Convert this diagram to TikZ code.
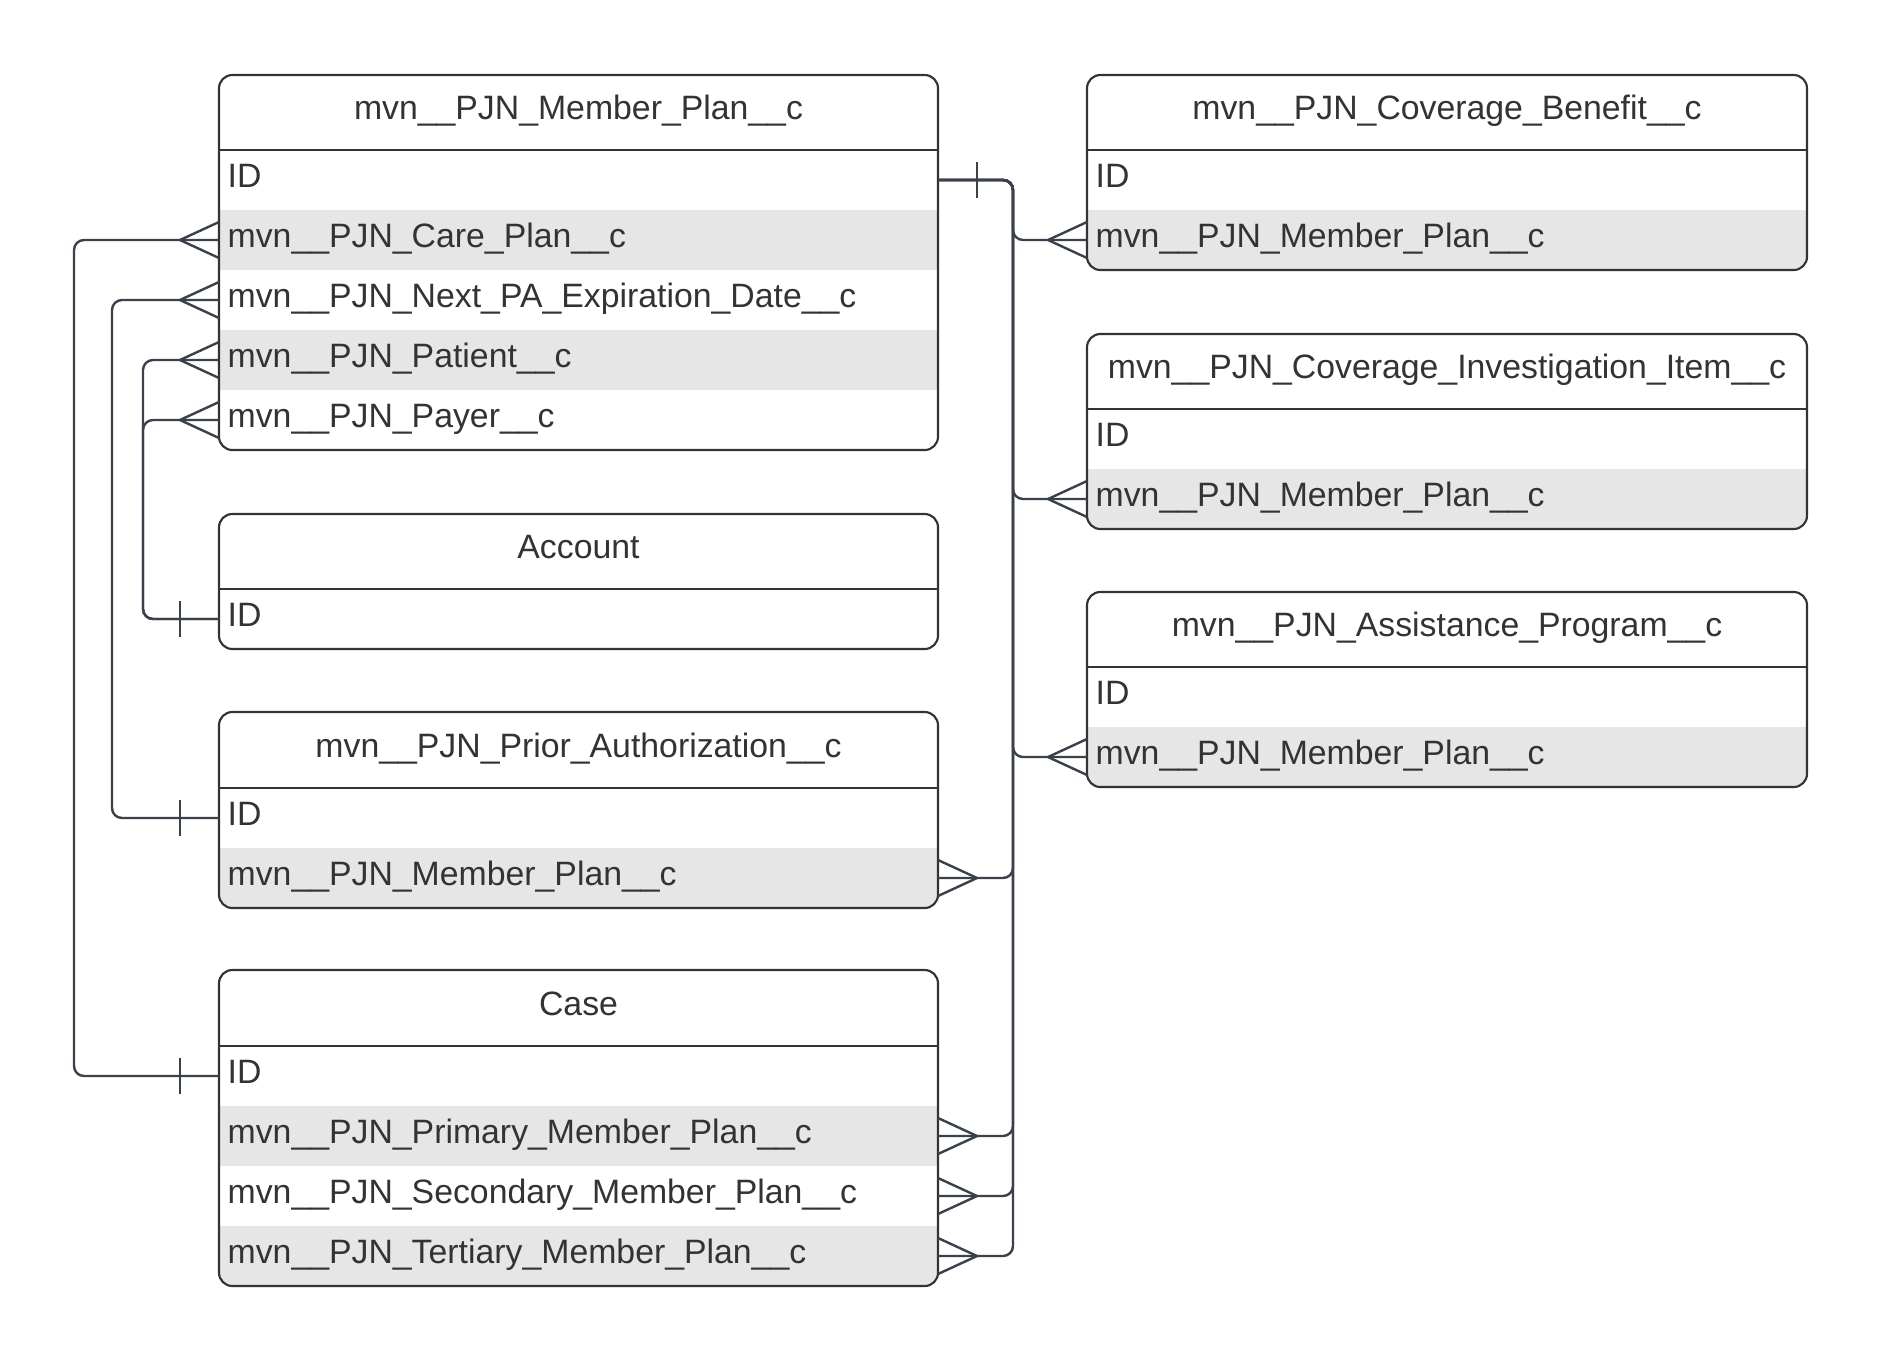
\documentclass[tikz,border=0pt]{standalone}
\usepackage{fontspec}
\setmainfont{Liberation Sans}
\usetikzlibrary{calc}
\definecolor{linec}{HTML}{3A414A}
\definecolor{boxc}{HTML}{333333}
\definecolor{rowg}{HTML}{E6E6E6}
\definecolor{txt}{HTML}{333333}
\tikzset{
  every node/.style={font=\fontsize{25.35}{30}\selectfont, text=txt},
  rowL/.style={anchor=north west, outer sep=0pt, inner ysep=0pt, inner xsep=6.5pt,
    minimum height=45pt, text width=526.25pt, align=left, text height=18pt, text depth=7.5pt},
  rowR/.style={rowL, text width=527pt},
  grayrow/.style={fill=rowg},
  hdr/.style={anchor=center, text height=18pt, text depth=7.5pt, inner sep=0pt},
  entbox/.style={draw=boxc, line width=1.6pt, rounded corners=10pt},
  sepline/.style={draw=boxc, line width=1.6pt},
  conn/.style={draw=linec, line width=1.8pt, rounded corners=7.5pt},
  tipline/.style={draw=linec, line width=1.8pt},
}
\newcommand\crowW[1]{\draw[tipline] ($(#1.west)+(0,-18)$) -- ($(#1.west)+(-39,0)$) -- ($(#1.west)+(0,18)$);}
\newcommand\crowE[1]{\draw[tipline] ($(#1.east)+(0,-18)$) -- ($(#1.east)+(39,0)$) -- ($(#1.east)+(0,18)$);}
\newcommand\barW[1]{\draw[tipline] ($(#1.west)+(-39,-18)$) -- ($(#1.west)+(-39,18)$);}
\newcommand\barE[1]{\draw[tipline] ($(#1.east)+(39,-18)$) -- ($(#1.east)+(39,18)$);}
\begin{document}
\begin{tikzpicture}[x=0.75pt, y=-0.75pt]
\useasboundingbox (0,0) rectangle (1883,1361);
\fill[white] (0,0) rectangle (1883,1361);

% ---------- Member Plan ----------
\begin{scope}
  \clip[rounded corners=10pt] (219,75) rectangle (938,450);
  \node[rowL] (mp-id) at (219,150) {ID};
  \node[rowL, grayrow] (mp-care) at (219,210) {mvn\_\_PJN\_Care\_Plan\_\_c};
  \node[rowL] (mp-next) at (219,270) {mvn\_\_PJN\_Next\_PA\_Expiration\_Date\_\_c};
  \node[rowL, grayrow] (mp-patient) at (219,330) {mvn\_\_PJN\_Patient\_\_c};
  \node[rowL] (mp-payer) at (219,390) {mvn\_\_PJN\_Payer\_\_c};
\end{scope}
\draw[entbox] (219,75) rectangle (938,450);
\draw[sepline] (219,150) -- (938,150);
\node[hdr] (mp) at (578.5,112.5) {mvn\_\_PJN\_Member\_Plan\_\_c};

% ---------- Account ----------
\begin{scope}
  \clip[rounded corners=10pt] (219,514) rectangle (938,649);
  \node[rowL] (acc-id) at (219,589) {ID};
\end{scope}
\draw[entbox] (219,514) rectangle (938,649);
\draw[sepline] (219,589) -- (938,589);
\node[hdr] (acc) at (578.5,551.5) {Account};

% ---------- Prior Authorization ----------
\begin{scope}
  \clip[rounded corners=10pt] (219,712) rectangle (938,908);
  \node[rowL] (pa-id) at (219,788) {ID};
  \node[rowL, grayrow] (pa-mp) at (219,848) {mvn\_\_PJN\_Member\_Plan\_\_c};
\end{scope}
\draw[entbox] (219,712) rectangle (938,908);
\draw[sepline] (219,788) -- (938,788);
\node[hdr] (pa) at (578.5,750) {mvn\_\_PJN\_Prior\_Authorization\_\_c};

% ---------- Case ----------
\begin{scope}
  \clip[rounded corners=10pt] (219,970) rectangle (938,1286);
  \node[rowL] (case-id) at (219,1046) {ID};
  \node[rowL, grayrow] (case-pri) at (219,1106) {mvn\_\_PJN\_Primary\_Member\_Plan\_\_c};
  \node[rowL] (case-sec) at (219,1166) {mvn\_\_PJN\_Secondary\_Member\_Plan\_\_c};
  \node[rowL, grayrow] (case-ter) at (219,1226) {mvn\_\_PJN\_Tertiary\_Member\_Plan\_\_c};
\end{scope}
\draw[entbox] (219,970) rectangle (938,1286);
\draw[sepline] (219,1046) -- (938,1046);
\node[hdr] (case) at (578.5,1008) {Case};

% ---------- Coverage Benefit ----------
\begin{scope}
  \clip[rounded corners=10pt] (1087,75) rectangle (1807,270);
  \node[rowR] (cb-id) at (1087,150) {ID};
  \node[rowR, grayrow] (cb-mp) at (1087,210) {mvn\_\_PJN\_Member\_Plan\_\_c};
\end{scope}
\draw[entbox] (1087,75) rectangle (1807,270);
\draw[sepline] (1087,150) -- (1807,150);
\node[hdr] (cb) at (1447,112.5) {mvn\_\_PJN\_Coverage\_Benefit\_\_c};

% ---------- Coverage Investigation Item ----------
\begin{scope}
  \clip[rounded corners=10pt] (1087,334) rectangle (1807,529);
  \node[rowR] (ci-id) at (1087,409) {ID};
  \node[rowR, grayrow] (ci-mp) at (1087,469) {mvn\_\_PJN\_Member\_Plan\_\_c};
\end{scope}
\draw[entbox] (1087,334) rectangle (1807,529);
\draw[sepline] (1087,409) -- (1807,409);
\node[hdr] (ci) at (1447,371.5) {mvn\_\_PJN\_Coverage\_Investigation\_Item\_\_c};

% ---------- Assistance Program ----------
\begin{scope}
  \clip[rounded corners=10pt] (1087,592) rectangle (1807,787);
  \node[rowR] (ap-id) at (1087,667) {ID};
  \node[rowR, grayrow] (ap-mp) at (1087,727) {mvn\_\_PJN\_Member\_Plan\_\_c};
\end{scope}
\draw[entbox] (1087,592) rectangle (1807,787);
\draw[sepline] (1087,667) -- (1807,667);
\node[hdr] (ap) at (1447,629.5) {mvn\_\_PJN\_Assistance\_Program\_\_c};

% ---------- Left connectors ----------
\draw[conn] (mp-care.west) -- ++(-145,0) |- (case-id.west);
\draw[conn] (mp-next.west) -- ++(-107,0) |- (pa-id.west);
\draw[conn] (mp-patient.west) -- ++(-76,0) |- (acc-id.west);
\draw[conn] (mp-payer.west) -- ++(-76,0) |- (acc-id.west);
\crowW{mp-care}\crowW{mp-next}\crowW{mp-patient}\crowW{mp-payer}
\barW{case-id}\barW{pa-id}\barW{acc-id}

% ---------- Right connectors ----------
\draw[conn] (mp-id.east) -- ++(75,0) |- (cb-mp.west);
\draw[conn] (mp-id.east) -- ++(75,0) |- (ci-mp.west);
\draw[conn] (mp-id.east) -- ++(75,0) |- (ap-mp.west);
\draw[conn] (mp-id.east) -- ++(75,0) |- (pa-mp.east);
\draw[conn] (mp-id.east) -- ++(75,0) |- (case-pri.east);
\draw[conn] (mp-id.east) -- ++(75,0) |- (case-sec.east);
\draw[conn] (mp-id.east) -- ++(75,0) |- (case-ter.east);
\barE{mp-id}
\crowW{cb-mp}\crowW{ci-mp}\crowW{ap-mp}
\crowE{pa-mp}\crowE{case-pri}\crowE{case-sec}\crowE{case-ter}
\end{tikzpicture}
\end{document}
